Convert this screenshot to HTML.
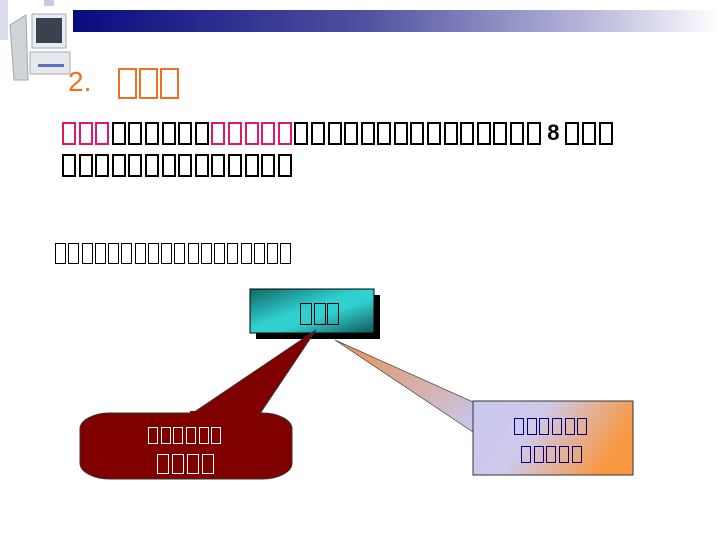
<!DOCTYPE html>
<html><head><meta charset="utf-8"><style>
body{margin:0;width:720px;height:540px;position:relative;background:#fff;overflow:hidden;font-family:"Liberation Sans","DejaVu Sans",sans-serif}
.row{position:absolute;display:flex;align-items:flex-start;white-space:nowrap}
.b{display:inline-block;box-sizing:border-box;color:transparent;font-size:0;line-height:0;overflow:hidden;background:transparent}
.L1 .b{width:14px;height:23px;border:2px solid #000;margin-right:2.6px}
.L1 .p{border-color:#e0186a}
.L3 .b{width:11px;height:21px;border:1px solid #000;margin-right:2.25px}
.T .b{width:19px;height:31px;border:2px solid #f07020;margin-right:2px}
.C .b{width:10px;height:17px;border:1px solid #000;margin-right:2.7px}
</style></head><body>
<div style="position:absolute;left:73px;top:10px;width:647px;height:22px;background:linear-gradient(90deg,#0a0a80,#5050a0 45%,#b8b8dc 80%,#fff)"></div>
<div style="position:absolute;left:0;top:0;width:8px;height:40px;background:#dcdcec"></div>
<div style="position:absolute;left:44px;top:0;width:10px;height:6px;background:#c8c8e0"></div>
<svg style="position:absolute;left:0;top:0" width="75" height="82">
<polygon points="10,25 26,15 28,80 14,80" fill="#cfd4d8" stroke="#9aa" />
<rect x="32" y="14" width="34" height="34" fill="#e8ecee" stroke="#aab"/>
<rect x="36" y="18" width="26" height="25" fill="#3a4250"/>
<rect x="30" y="52" width="40" height="22" fill="#e6e9ec" stroke="#aab"/>
<rect x="38" y="64" width="26" height="3" fill="#6070c0"/>
</svg>
<div class="row" style="left:68px;top:66px;color:#f07020;font-size:28px">2.</div>
<div class="row T" style="left:118px;top:68px"><span class="b">□</span><span class="b">□</span><span class="b">□</span></div>

<div class="row L1" style="left:62px;top:122px"><span class="b p">□</span><span class="b p">□</span><span class="b p">□</span><span class="b">□</span><span class="b">□</span><span class="b">□</span><span class="b">□</span><span class="b">□</span><span class="b">□</span><span class="b p">□</span><span class="b p">□</span><span class="b p">□</span><span class="b p">□</span><span class="b p">□</span><span class="b">□</span><span class="b">□</span><span class="b">□</span><span class="b">□</span><span class="b">□</span><span class="b">□</span><span class="b">□</span><span class="b">□</span><span class="b">□</span><span class="b">□</span><span class="b">□</span><span class="b">□</span><span class="b">□</span><span class="b">□</span><span class="b">□</span><span style="font-weight:bold;font-size:22px;margin:0 6px 0 4px;line-height:22px">8</span><span class="b">□</span><span class="b">□</span><span class="b">□</span></div>
<div class="row L1" style="left:62px;top:154px"><span class="b">□</span><span class="b">□</span><span class="b">□</span><span class="b">□</span><span class="b">□</span><span class="b">□</span><span class="b">□</span><span class="b">□</span><span class="b">□</span><span class="b">□</span><span class="b">□</span><span class="b">□</span><span class="b">□</span><span class="b">□</span></div>
<div class="row L3" style="left:55px;top:243px"><span class="b">□</span><span class="b">□</span><span class="b">□</span><span class="b">□</span><span class="b">□</span><span class="b">□</span><span class="b">□</span><span class="b">□</span><span class="b">□</span><span class="b">□</span><span class="b">□</span><span class="b">□</span><span class="b">□</span><span class="b">□</span><span class="b">□</span><span class="b">□</span><span class="b">□</span><span class="b">□</span></div>

<svg style="position:absolute;left:0;top:0" width="720" height="540">
<defs>
<linearGradient id="tg" x1="0" y1="0" x2="1" y2="1"><stop offset="0" stop-color="#106868"/><stop offset="0.45" stop-color="#30d0d0"/><stop offset="0.6" stop-color="#30d0d0"/><stop offset="1" stop-color="#105858"/></linearGradient>
<linearGradient id="og" x1="0" y1="0" x2="1" y2="0.3"><stop offset="0" stop-color="#c8c8f0"/><stop offset="0.45" stop-color="#d0c8e8"/><stop offset="1" stop-color="#f89840"/></linearGradient>
<linearGradient id="pg" x1="0" y1="0" x2="1" y2="1"><stop offset="0" stop-color="#e89050"/><stop offset="1" stop-color="#c8c8f0"/></linearGradient>
</defs>
<rect x="256" y="295" width="124" height="44" fill="#000"/>
<rect x="250" y="289" width="124" height="44" fill="url(#tg)" stroke="#000"/>
<path d="M316,330 L259,415 L190,415 Z" fill="#800000" stroke="#333"/>
<rect x="80" y="413" width="212" height="66" rx="30" ry="16" fill="#800000" stroke="#333"/>
<rect x="190" y="411" width="69" height="6" fill="#800000"/>
<path d="M335,340 L473,402 L473,432 Z" fill="url(#pg)" stroke="#444" stroke-width="0.7"/>
<rect x="473" y="401" width="160" height="74" fill="url(#og)" stroke="#333"/>
</svg>
<div class="row C" style="left:300px;top:303px"><span class="b" style="width:12px;height:22px;margin-right:1.5px">□</span><span class="b" style="width:12px;height:22px;margin-right:1.5px">□</span><span class="b" style="width:12px;height:22px">□</span></div>
<div class="row C" style="left:148px;top:427px"><span class="b" style="border-color:#fff">□</span><span class="b" style="border-color:#fff">□</span><span class="b" style="border-color:#fff">□</span><span class="b" style="border-color:#fff">□</span><span class="b" style="border-color:#fff">□</span><span class="b" style="border-color:#fff">□</span></div>
<div class="row C" style="left:157px;top:454px"><span class="b" style="border-color:#fff;width:12px;height:20px;margin-right:3px">□</span><span class="b" style="border-color:#fff;width:12px;height:20px;margin-right:3px">□</span><span class="b" style="border-color:#fff;width:12px;height:20px;margin-right:3px">□</span><span class="b" style="border-color:#fff;width:12px;height:20px">□</span></div>
<div class="row C" style="left:514px;top:418px"><span class="b" style="border-color:#000080">□</span><span class="b" style="border-color:#000080">□</span><span class="b" style="border-color:#000080">□</span><span class="b" style="border-color:#000080">□</span><span class="b" style="border-color:#000080">□</span><span class="b" style="border-color:#000080">□</span></div>
<div class="row C" style="left:521px;top:446px"><span class="b" style="border-color:#000080">□</span><span class="b" style="border-color:#000080">□</span><span class="b" style="border-color:#000080">□</span><span class="b" style="border-color:#000080">□</span><span class="b" style="border-color:#000080">□</span></div>
</body></html>
